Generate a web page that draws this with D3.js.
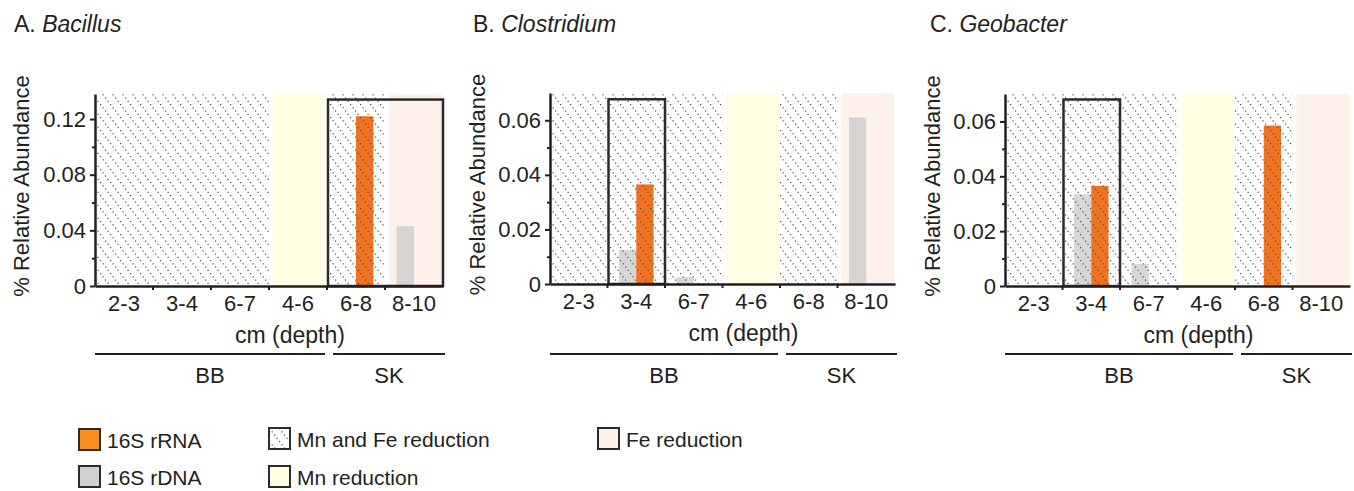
<!DOCTYPE html>
<html>
<head>
<meta charset="utf-8">
<script src="https://cdn.jsdelivr.net/npm/d3@7"></script>
<style>
    body { margin: 0; background: #fff; }
    svg { font-family: "Liberation Sans", Arial, sans-serif; fill: #231f20; }
</style>
</head>
<body>
<div id="chart"></div>
<script>
// depth intervals (cm) on the x axis, and what each one belongs to
const categories = ["2-3", "3-4", "6-7", "4-6", "6-8", "8-10"];
const zones = ["MnFe", "MnFe", "MnFe", "Mn", "MnFe", "Fe"];
const sites = ["BB", "BB", "BB", "BB", "SK", "SK"];

const genera = ["Bacillus", "Clostridium", "Geobacter"];
const letters = ["A.", "B.", "C."];

// % relative abundance, per genus
const rRNA_bacillus = [0, 0, 0, 0, 0.122, 0];
const rDNA_bacillus = [0, 0, 0, 0, 0, 0.043];
const rRNA_clostridium = [0, 0.0365, 0, 0, 0, 0];
const rDNA_clostridium = [0, 0.0125, 0.0025, 0, 0, 0.061];
const rRNA_geobacter = [0, 0.0365, 0, 0, 0.0585, 0];
const rDNA_geobacter = [0, 0.0335, 0.008, 0, 0, 0];

const yMax = [0.138, 0.07, 0.07];
const yTicks = [[0, 0.04, 0.08, 0.12], [0, 0.02, 0.04, 0.06], [0, 0.02, 0.04, 0.06]];
const yTickLabels = [["0", "0.04", "0.08", "0.12"], ["0", "0.02", "0.04", "0.06"], ["0", "0.02", "0.04", "0.06"]];
const yMinorTicks = [[0.02, 0.06, 0.10], [0.01, 0.03, 0.05], [0.01, 0.03, 0.05]];

// highlighted (boxed) intervals
const boxFrom = ["6-8", "3-4", "3-4"];
const boxTo = ["8-10", "3-4", "3-4"];
const boxTop = [0.134, 0.0677, 0.068];

const rRNA = [rRNA_bacillus, rRNA_clostridium, rRNA_geobacter];
const rDNA = [rDNA_bacillus, rDNA_clostridium, rDNA_geobacter];

const width = 1354;
const height = 491;

const orange = "#f07322";
const grey = "#d0d0d0";
const yellow = "#fffde2";
const pink = "#fef1ea";
const ink = "#231f20";

const panels = [
    { left: 95, width: 348, top: 94, bottom: 286, titleX: 14, labelX: 21 },
    { left: 550, width: 345, top: 93, bottom: 284, titleX: 473, labelX: 477 },
    { left: 1005, width: 345, top: 94, bottom: 286, titleX: 930, labelX: 932 },
];

const svg = d3.select("#chart")
    .append("svg")
    .attr("width", width)
    .attr("height", height);

// dotted diagonal hatch for "Mn and Fe reduction"
const defs = svg.append("defs");
const hatch = defs.append("pattern")
    .attr("id", "hatch")
    .attr("patternUnits", "userSpaceOnUse")
    .attr("width", 10)
    .attr("height", 13);
[0, 1, 2, 3].forEach((k) => {
    hatch.append("rect")
        .attr("x", k * 2.5)
        .attr("y", k * 3.25)
        .attr("width", 1.2)
        .attr("height", 1.2)
        .attr("fill", "#4a4a4a");
});

panels.forEach((p, i) => {
    const g = svg.append("g");

    const x = d3.scaleBand()
        .domain(categories)
        .range([p.left, p.left + p.width]);

    const y = d3.scaleLinear()
        .domain([0, yMax[i]])
        .range([p.bottom, p.top]);

    const bw = x.bandwidth();
    const barW = bw * 0.3;

    // title
    const title = g.append("text")
        .attr("x", p.titleX)
        .attr("y", 32)
        .style("font-size", "23px");
    title.append("tspan").text(letters[i] + " ");
    title.append("tspan").style("font-style", "italic").text(genera[i]);

    // coloured backgrounds (Mn / Fe reduction)
    g.append("g")
        .selectAll("rect")
        .data(categories.filter((c, j) => zones[j] !== "MnFe"))
        .join("rect")
        .attr("x", (d) => x(d) + 4)
        .attr("width", bw - 5)
        .attr("y", y(yMax[i]))
        .attr("height", y(0) - y(yMax[i]))
        .attr("fill", (d) => zones[categories.indexOf(d)] === "Mn" ? yellow : pink);

    // rDNA bars (left) and rRNA bars (right)
    g.append("g")
        .selectAll("rect")
        .data(categories.map((c, j) => ({ c, v: rDNA[i][j] })).filter((d) => d.v > 0))
        .join("rect")
        .attr("x", (d) => x(d.c) + bw / 2 - barW)
        .attr("width", barW)
        .attr("y", (d) => y(d.v))
        .attr("height", (d) => y(0) - y(d.v))
        .attr("fill", grey)
        .attr("fill-opacity", 0.85);

    g.append("g")
        .selectAll("rect")
        .data(categories.map((c, j) => ({ c, v: rRNA[i][j] })).filter((d) => d.v > 0))
        .join("rect")
        .attr("x", (d) => x(d.c) + bw / 2)
        .attr("width", barW)
        .attr("y", (d) => y(d.v))
        .attr("height", (d) => y(0) - y(d.v))
        .attr("fill", orange);

    // hatch goes over the bars
    g.append("g")
        .selectAll("rect")
        .data(categories.filter((c, j) => zones[j] === "MnFe"))
        .join("rect")
        .attr("x", (d) => x(d))
        .attr("width", bw)
        .attr("y", y(yMax[i]))
        .attr("height", y(0) - y(yMax[i]))
        .attr("fill", "url(#hatch)");

    // highlight box
    const bx0 = x(boxFrom[i]) + 1;
    const bx1 = x(boxTo[i]) + bw;
    g.append("rect")
        .attr("x", bx0)
        .attr("y", y(boxTop[i]))
        .attr("width", bx1 - bx0)
        .attr("height", y(0) - y(boxTop[i]))
        .attr("fill", "none")
        .attr("stroke", "#2b2b2b")
        .attr("stroke-width", 2.5);

    // y axis (labelled + minor ticks)
    const yAxis = g.append("g")
        .attr("transform", `translate(${p.left},0)`)
        .call(d3.axisLeft(y)
            .tickValues(yTicks[i])
            .tickFormat((d, k) => yTickLabels[i][k])
            .tickSize(5)
            .tickSizeOuter(0)
            .tickPadding(4));
    yAxis.select(".domain").attr("stroke", ink).attr("stroke-width", 2.5);
    yAxis.selectAll(".tick line").attr("stroke", ink).attr("stroke-width", 2);
    yAxis.selectAll(".tick text")
        .attr("fill", ink)
        .style("font-size", "22px")
        .style("font-family", "Liberation Sans, Arial, sans-serif");

    const yMinor = g.append("g")
        .attr("transform", `translate(${p.left},0)`)
        .call(d3.axisLeft(y).tickValues(yMinorTicks[i]).tickFormat("").tickSize(3).tickSizeOuter(0));
    yMinor.select(".domain").remove();
    yMinor.selectAll(".tick line").attr("stroke", ink).attr("stroke-width", 2);

    // x axis
    const xAxis = g.append("g")
        .attr("transform", `translate(0,${p.bottom})`)
        .call(d3.axisBottom(x).tickSize(0).tickSizeOuter(0).tickPadding(9));
    xAxis.select(".domain").attr("stroke", ink).attr("stroke-width", 2.5);
    xAxis.selectAll(".tick text")
        .attr("fill", ink)
        .style("font-size", "22px")
        .style("font-family", "Liberation Sans, Arial, sans-serif");

    // small marks at the interval boundaries
    g.append("g")
        .selectAll("line")
        .data(categories.slice(1))
        .join("line")
        .attr("x1", (d) => x(d))
        .attr("x2", (d) => x(d))
        .attr("y1", p.bottom)
        .attr("y2", p.bottom + 4)
        .attr("stroke", ink)
        .attr("stroke-width", 2);

    g.append("text")
        .attr("x", p.left + p.width / 2 + 21)
        .attr("y", p.bottom + 57)
        .attr("text-anchor", "middle")
        .style("font-size", "23px")
        .text("cm (depth)");

    g.append("text")
        .attr("transform", `translate(${p.labelX},${(p.top + p.bottom) / 2 - 4}) rotate(-90)`)
        .attr("text-anchor", "middle")
        .attr("dy", "0.35em")
        .style("font-size", "22px")
        .text("% Relative Abundance");

    // site brackets: BB and SK
    const bbEnd = x(categories[sites.lastIndexOf("BB")]) + bw;
    const groups = [
        { name: "BB", x0: p.left, x1: bbEnd - 2 },
        { name: "SK", x0: bbEnd + 6, x1: p.left + p.width + 2 },
    ];
    g.append("g")
        .selectAll("line")
        .data(groups)
        .join("line")
        .attr("x1", (d) => d.x0)
        .attr("x2", (d) => d.x1)
        .attr("y1", 354)
        .attr("y2", 354)
        .attr("stroke", ink)
        .attr("stroke-width", 2);
    g.append("g")
        .selectAll("text")
        .data(groups)
        .join("text")
        .attr("x", (d) => (d.x0 + d.x1) / 2)
        .attr("y", 383)
        .attr("text-anchor", "middle")
        .style("font-size", "22px")
        .text((d) => d.name);
});

// legend
const legendItems = [
    { label: "16S rRNA", fill: "#f7901e", x: 79, y: 429 },
    { label: "16S rDNA", fill: grey, x: 79, y: 466 },
    { label: "Mn and Fe reduction", fill: "url(#hatch)", x: 269, y: 428 },
    { label: "Mn reduction", fill: yellow, x: 269, y: 466 },
    { label: "Fe reduction", fill: pink, x: 598, y: 428 },
];

const legend = svg.append("g")
    .selectAll("g")
    .data(legendItems)
    .join("g")
    .attr("transform", (d) => `translate(${d.x},${d.y})`);

legend.append("rect")
    .attr("width", 21)
    .attr("height", 21)
    .attr("fill", (d) => d.fill)
    .attr("stroke", "#2b2b2b")
    .attr("stroke-width", 2);

legend.append("text")
    .attr("x", 28)
    .attr("y", 11)
    .attr("dy", "0.36em")
    .style("font-size", "21px")
    .text((d) => d.label);
</script>
</body>
</html>
